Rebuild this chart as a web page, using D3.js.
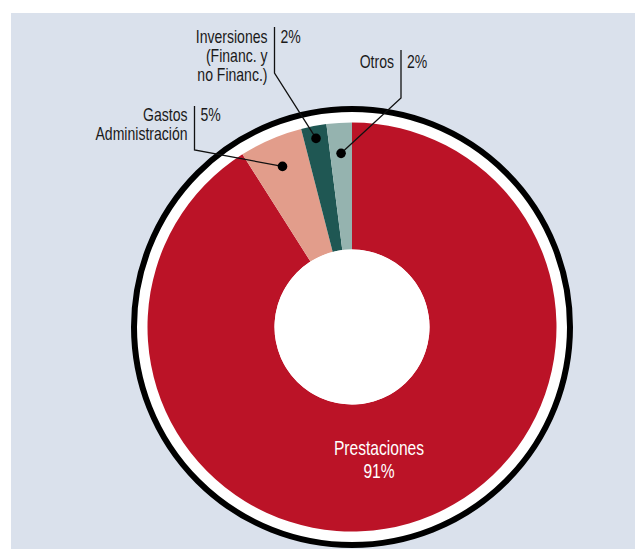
<!DOCTYPE html>
<html>
<head>
<meta charset="utf-8">
<script src="https://cdn.jsdelivr.net/npm/d3@7"></script>
<style>
  body { margin: 0; background: #ffffff; }
  svg { display: block; }
  text { font-family: "Liberation Sans", Arial, sans-serif; }
</style>
</head>
<body>
<script>
var w = 635
var h = 549

// data
var categories = ["Prestaciones", "Gastos Administración", "Inversiones (Financ. y no Financ.)", "Otros"]
var values = [91, 5, 2, 2]
var labelLines = [["Prestaciones"], ["Gastos", "Administración"], ["Inversiones", "(Financ. y", "no Financ.)"], ["Otros"]]
var pctLabels = ["91%", "5%", "2%", "2%"]
var colors = ["#bb1327", "#e29d8b", "#1f5753", "#95b3af"]

var cx = 352, cy = 327
var rOuter = 204.5, rInner = 77.5
var squeeze = 0.78 // condensed look

// label layout for the small slices (bar x, first baseline, bar top, bend y, dot radius)
var layout = {
  1: {bx: 194.5, ty: 121, top: 106, bend: 150, dr: 175},
  2: {bx: 274.5, ty: 43, top: 27, bend: 73, dr: 192},
  3: {bx: 401, ty: 68, top: 50, bend: 98, dr: 174}
}

var svg = d3.select("body")
            .append("svg")
            .attr("width", w)
            .attr("height", h)

svg.append("rect")
    .attr("x", 11)
    .attr("y", 13)
    .attr("width", w - 11)
    .attr("height", h - 13)
    .attr("fill", "#dae1ec")

var g = svg.append("g")
           .attr("transform", "translate(" + cx + "," + cy + ")")

// white band with black outer ring
g.append("circle")
  .attr("r", 218)
  .attr("fill", "#ffffff")
  .attr("stroke", "#000000")
  .attr("stroke-width", 6)

var pie = d3.pie().sort(null)
var arcs = pie(values)

var arc = d3.arc().innerRadius(rInner).outerRadius(rOuter)

g.selectAll("path.slice")
  .data(arcs)
  .enter().append("path")
  .attr("class", "slice")
  .attr("d", arc)
  .attr("fill", function(d, i) { return colors[i] })

// centre hole
g.append("circle")
  .attr("r", rInner)
  .attr("fill", "#ffffff")

function squeezedText(x, y, anchor, size, color, lines, lh) {
  var t = svg.append("text")
    .attr("transform", "translate(" + x + "," + y + ") scale(" + squeeze + ",1)")
    .attr("text-anchor", anchor)
    .attr("fill", color)
    .attr("font-size", size)
  lines.forEach(function(line, k) {
    t.append("tspan").attr("x", 0).attr("y", k * lh).text(line)
  })
  return t
}

// big label inside the red slice
squeezedText(379, 455, "middle", "20px", "#ffffff", [labelLines[0][0], pctLabels[0]], 23)

// callout labels
arcs.forEach(function(d, i) {
  if (i === 0) return
  var L = layout[i]
  var mid = (d.startAngle + d.endAngle) / 2
  var dx = cx + L.dr * Math.sin(mid)
  var dy = cy - L.dr * Math.cos(mid)

  squeezedText(L.bx - 7, L.ty, "end", "18px", "#1a1a1a", labelLines[i], 19)
  squeezedText(L.bx + 6, L.ty, "start", "18px", "#1a1a1a", [pctLabels[i]], 19)

  svg.append("polyline")
    .attr("points", [[L.bx, L.top], [L.bx, L.bend], [dx, dy]].join(" "))
    .attr("fill", "none")
    .attr("stroke", "#111111")
    .attr("stroke-width", 1.3)

  svg.append("circle")
    .attr("cx", dx)
    .attr("cy", dy)
    .attr("r", 4.8)
    .attr("fill", "#000000")
})
</script>
</body>
</html>
